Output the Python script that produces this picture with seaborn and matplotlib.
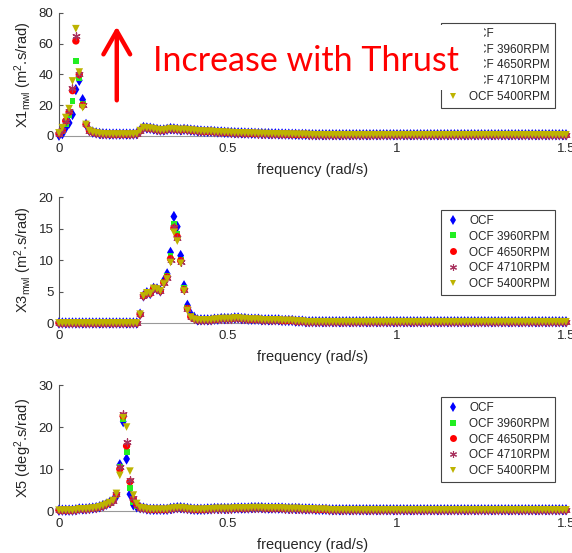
import numpy as np
import pandas as pd
import matplotlib
matplotlib.use("Agg")
import matplotlib.pyplot as plt
import seaborn as sns
from matplotlib.lines import Line2D
from matplotlib.patches import Rectangle

# ---------------- data ----------------
freq = np.round(np.arange(151) * 0.01, 2)   # frequency grid (rad/s)

series = ["OCF", "OCF 3960RPM", "OCF 4650RPM", "OCF 4710RPM", "OCF 5400RPM"]

# X1 (surge) spectrum - shared off-peak values
x1_base = [
    1.0, 4.0, 9.0, 14.0, 28.0, 55.0, 39.0, 20.0, 7.5, 3.5,
    2.5, 2.0, 1.6, 1.4, 1.3, 1.2, 1.2, 1.2, 1.2, 1.2,
    1.2, 1.2, 1.2, 1.5, 3.5, 5.5, 5.2, 5.0, 4.6, 4.2,
    3.8, 3.9, 4.3, 4.8, 4.6, 4.3, 4.0, 4.3, 4.1, 3.8,
    3.6, 3.4, 3.2, 3.0, 3.0, 3.0, 2.8, 2.6, 2.6, 2.4,
    2.3, 2.2, 2.1, 2.0, 2.0, 1.9, 1.8, 1.8, 1.7, 1.6,
    1.6, 1.5, 1.5, 1.4, 1.4, 1.3, 1.3, 1.2, 1.2, 1.1,
    1.1, 1.0, 1.0, 1.0, 0.9, 0.8, 0.8, 0.8, 0.8, 0.8,
    0.8, 0.8, 0.8, 0.8, 0.8, 0.8, 0.8, 0.8, 0.8, 0.8,
    0.8, 0.8, 0.8, 0.8, 0.8, 0.8, 0.8, 0.8, 0.8, 0.8,
    0.8, 0.8, 0.8, 0.8, 0.8, 0.8, 0.8, 0.8, 0.8, 0.8,
    0.8, 0.8, 0.8, 0.8, 0.8, 0.8, 0.8, 0.8, 0.8, 0.8,
    0.8, 0.8, 0.8, 0.8, 0.8, 0.8, 0.8, 0.8, 0.8, 0.8,
    0.8, 0.8, 0.8, 0.8, 0.8, 0.8, 0.8, 0.8, 0.8, 0.8,
    0.8, 0.8, 0.8, 0.8, 0.8, 0.8, 0.8, 0.8, 0.8, 0.8,
    0.8,
]
# X1 peak region (f = 0.00 .. 0.08) per series
x1_peak_start = 0
x1_ocf = [0.5, 1.5, 5.4, 8.5, 14.0, 30.2, 36.2, 23.6, 7.5]
x1_3960 = [1.0, 3.5, 8.0, 13.4, 22.8, 48.6, 38.0, 21.0, 7.5]
x1_4650 = [1.5, 3.5, 9.8, 15.6, 29.5, 61.8, 40.0, 20.0, 7.5]
x1_4710 = [1.5, 4.0, 10.0, 16.0, 31.0, 64.9, 40.5, 20.0, 7.5]
x1_5400 = [2.0, 5.4, 12.0, 17.8, 35.8, 69.8, 41.6, 18.4, 7.5]

# X3 (heave) spectrum - shared off-peak values
x3_base = [
    0.0, 0.0, 0.0, 0.0, 0.0, 0.0, 0.0, 0.0, 0.0, 0.0,
    0.0, 0.0, 0.0, 0.0, 0.0, 0.0, 0.0, 0.0, 0.0, 0.0,
    0.0, 0.0, 0.0, 0.0, 1.4, 4.3, 4.8, 4.7, 5.5, 5.4,
    5.1, 6.5, 7.4, 10.3, 15.3, 13.9, 10.0, 5.4, 2.3, 1.0,
    0.7, 0.5, 0.5, 0.5, 0.5, 0.5, 0.6, 0.6, 0.7, 0.7,
    0.7, 0.7, 0.8, 0.8, 0.7, 0.7, 0.6, 0.6, 0.6, 0.6,
    0.5, 0.5, 0.5, 0.5, 0.5, 0.5, 0.4, 0.4, 0.4, 0.4,
    0.3, 0.3, 0.3, 0.2, 0.2, 0.2, 0.2, 0.2, 0.2, 0.2,
    0.2, 0.2, 0.2, 0.2, 0.2, 0.2, 0.2, 0.2, 0.2, 0.2,
    0.2, 0.2, 0.2, 0.2, 0.2, 0.2, 0.2, 0.2, 0.2, 0.2,
    0.2, 0.2, 0.2, 0.2, 0.2, 0.2, 0.2, 0.2, 0.2, 0.2,
    0.2, 0.2, 0.2, 0.2, 0.2, 0.2, 0.2, 0.2, 0.2, 0.2,
    0.2, 0.2, 0.2, 0.2, 0.2, 0.2, 0.2, 0.2, 0.2, 0.2,
    0.2, 0.2, 0.2, 0.2, 0.2, 0.2, 0.2, 0.2, 0.2, 0.2,
    0.2, 0.2, 0.2, 0.2, 0.2, 0.2, 0.2, 0.2, 0.2, 0.2,
    0.2,
]
# X3 peak region (f = 0.31 .. 0.40) per series
x3_peak_start = 31
x3_ocf = [6.7, 7.8, 11.2, 16.9, 15.3, 10.7, 5.9, 2.8, 1.4, 0.9]
x3_3960 = [6.5, 7.5, 10.6, 15.8, 14.2, 10.0, 5.5, 2.4, 1.1, 0.7]
x3_4650 = [6.4, 7.3, 10.2, 15.1, 13.7, 9.9, 5.3, 2.3, 1.0, 0.7]
x3_4710 = [6.4, 7.2, 10.0, 15.3, 13.5, 9.7, 5.2, 2.2, 1.0, 0.7]
x3_5400 = [6.2, 7.0, 9.6, 14.4, 13.0, 9.5, 5.1, 2.0, 0.9, 0.6]

# X5 (pitch) spectrum - shared off-peak values
x5_base = [
    0.2, 0.2, 0.2, 0.2, 0.2, 0.3, 0.5, 0.5, 0.5, 0.6,
    0.7, 0.8, 1.0, 1.3, 1.6, 2.0, 2.5, 4.0, 10.0, 22.4,
    15.6, 6.7, 2.7, 1.4, 0.8, 0.7, 0.5, 0.4, 0.4, 0.4,
    0.4, 0.4, 0.4, 0.6, 0.7, 0.8, 0.8, 0.7, 0.6, 0.5,
    0.4, 0.4, 0.4, 0.4, 0.5, 0.5, 0.6, 0.6, 0.6, 0.6,
    0.6, 0.6, 0.7, 0.7, 0.7, 0.7, 0.7, 0.8, 0.8, 0.8,
    0.8, 0.7, 0.7, 0.7, 0.7, 0.7, 0.7, 0.6, 0.6, 0.6,
    0.6, 0.6, 0.5, 0.5, 0.5, 0.5, 0.4, 0.4, 0.4, 0.4,
    0.3, 0.3, 0.3, 0.3, 0.3, 0.3, 0.3, 0.3, 0.3, 0.3,
    0.3, 0.3, 0.3, 0.3, 0.3, 0.3, 0.3, 0.3, 0.3, 0.3,
    0.3, 0.3, 0.3, 0.3, 0.3, 0.3, 0.3, 0.3, 0.3, 0.3,
    0.3, 0.3, 0.3, 0.3, 0.3, 0.3, 0.3, 0.3, 0.3, 0.3,
    0.3, 0.3, 0.3, 0.3, 0.3, 0.3, 0.3, 0.3, 0.3, 0.3,
    0.3, 0.3, 0.3, 0.3, 0.3, 0.3, 0.3, 0.3, 0.3, 0.3,
    0.3, 0.3, 0.3, 0.3, 0.3, 0.3, 0.3, 0.3, 0.3, 0.3,
    0.3,
]
# X5 peak region (f = 0.17 .. 0.23) per series
x5_peak_start = 17
x5_ocf = [3.5, 11.0, 21.3, 12.4, 4.0, 1.5, 1.0]
x5_3960 = [3.8, 10.5, 22.0, 14.0, 5.5, 2.2, 1.2]
x5_4650 = [4.0, 10.0, 22.6, 15.5, 7.0, 2.8, 1.5]
x5_4710 = [4.0, 10.5, 23.2, 16.5, 7.5, 3.0, 1.5]
x5_5400 = [4.2, 8.5, 22.2, 20.0, 9.5, 3.8, 1.8]

x_ticks = [0, 0.5, 1, 1.5]
x_tick_labels = ["0", "0.5", "1", "1.5"]
y1_ticks = [0, 20, 40, 60, 80]
y3_ticks = [0, 5, 10, 15, 20]
y5_ticks = [0, 10, 20, 30]


def assemble(base, start, peaks):
    rows = []
    for name, pk in zip(series, peaks):
        vals = list(base)
        vals[start:start + len(pk)] = pk
        rows.append(pd.DataFrame({"freq": freq, "value": vals, "series": name}))
    return pd.concat(rows, ignore_index=True)


df1 = assemble(x1_base, x1_peak_start, [x1_ocf, x1_3960, x1_4650, x1_4710, x1_5400])
df3 = assemble(x3_base, x3_peak_start, [x3_ocf, x3_3960, x3_4650, x3_4710, x3_5400])
df5 = assemble(x5_base, x5_peak_start, [x5_ocf, x5_3960, x5_4650, x5_4710, x5_5400])

# ---------------- style ----------------
sns.set_theme(style="white")
plt.rcParams["font.family"] = ["Liberation Sans", "DejaVu Sans"]
plt.rcParams["mathtext.fontset"] = "custom"
plt.rcParams["mathtext.rm"] = "Liberation Sans"
plt.rcParams["mathtext.it"] = "Liberation Sans:italic"
plt.rcParams["mathtext.bf"] = "Liberation Sans:bold"

colors = {"OCF": "#0000FF", "OCF 3960RPM": "#22EE22", "OCF 4650RPM": "#FF0000",
          "OCF 4710RPM": "#A8325E", "OCF 5400RPM": "#BDB300"}
markers = {"OCF": "d", "OCF 3960RPM": "s", "OCF 4650RPM": "o",
           "OCF 4710RPM": (6, 2, 0), "OCF 5400RPM": "v"}
sizes = {"OCF": 34, "OCF 3960RPM": 18, "OCF 4650RPM": 28,
         "OCF 4710RPM": 28, "OCF 5400RPM": 30}
leg_ms = {"OCF": 5.5, "OCF 3960RPM": 4, "OCF 4650RPM": 5,
          "OCF 4710RPM": 5, "OCF 5400RPM": 5}

fig = plt.figure(figsize=(5.72, 5.53), dpi=100)
ax1 = fig.add_axes([0.1031, 0.7541, 0.8864, 0.2224])
ax3 = fig.add_axes([0.1031, 0.4159, 0.8864, 0.2278])
ax5 = fig.add_axes([0.1031, 0.0759, 0.8864, 0.2278])

panels = [
    (ax1, df1, (0, 80), y1_ticks, r"X1$_{\mathrm{mwl}}$ (m$^{2}$.s/rad)", 0.919),
    (ax3, df3, (0, 20), y3_ticks, r"X3$_{\mathrm{mwl}}$ (m$^{2}$.s/rad)", 0.897),
    (ax5, df5, (0, 30), y5_ticks, r"X5 (deg$^{2}$.s/rad)", 0.905),
]

tick_col = "#262626"
for ax, df, ylim, yt, ylab, legtop in panels:
    for name in series:
        sub = df[df["series"] == name]
        m = markers[name]
        if name == "OCF 4710RPM":
            sns.scatterplot(data=sub, x="freq", y="value", marker=m, color=colors[name],
                            s=sizes[name], linewidth=0.9, ax=ax, legend=False,
                            zorder=3, clip_on=False)
        else:
            sns.scatterplot(data=sub, x="freq", y="value", marker=m, color=colors[name],
                            s=sizes[name], linewidth=0, edgecolor="none", ax=ax,
                            legend=False, zorder=3, clip_on=False)
    ax.set_xlim(0, 1.5)
    ax.set_ylim(*ylim)
    ax.set_xticks(x_ticks)
    ax.set_xticklabels(x_tick_labels)
    ax.set_yticks(yt)
    ax.set_yticklabels([str(v) for v in yt])
    for s in ["top", "right"]:
        ax.spines[s].set_visible(False)
    ax.spines["left"].set_color("#555555")
    ax.spines["bottom"].set_color("#999999")
    ax.spines["left"].set_linewidth(0.8)
    ax.spines["bottom"].set_linewidth(0.8)
    ax.tick_params(axis="both", direction="in", length=3, width=0.8, color="#555555",
                   labelsize=9.5, labelcolor=tick_col, pad=4)
    ax.tick_params(axis="x", pad=5, bottom=True)
    ax.tick_params(axis="y", left=True)
    ax.set_xlabel("frequency (rad/s)", fontsize=10.5, color=tick_col, labelpad=6)
    ax.set_ylabel(ylab, fontsize=10.5, color=tick_col)
    ax.yaxis.set_label_coords(-0.05, 0.5)

    handles = [Line2D([], [], linestyle="none", marker=markers[n], color=colors[n],
                      markerfacecolor=colors[n], markeredgecolor=colors[n],
                      markeredgewidth=0.8 if n == "OCF 4710RPM" else 0,
                      markersize=leg_ms[n]) for n in series]
    leg = ax.legend(handles, series, loc="upper right", bbox_to_anchor=(0.978, legtop),
                    fontsize=8.5, frameon=True, fancybox=False, framealpha=1,
                    edgecolor="#444444", borderaxespad=0, borderpad=0.4,
                    labelspacing=0.33, handlelength=1.2, handletextpad=0.8)
    leg.get_frame().set_linewidth(0.8)
    for t in leg.get_texts():
        t.set_color(tick_col)

# annotation on top panel
ax1.add_patch(Rectangle((0.179, 0.374), 0.659, 0.528, transform=ax1.transAxes,
                        facecolor="white", edgecolor="none", zorder=6, clip_on=False))
ax1.text(0.185, 0.528, "Increase with Thrust", transform=ax1.transAxes,
         fontsize=24.5, color="#FF0000", ha="left", va="baseline",
         family=["Lato", "DejaVu Sans"], zorder=7)
ax1.annotate("", xy=(0.114, 0.89), xytext=(0.114, 0.29), xycoords="axes fraction",
             textcoords="axes fraction",
             arrowprops=dict(arrowstyle="->,head_length=1.4,head_width=0.8",
                             color="#FF0000", lw=3.2, shrinkA=0, shrinkB=0),
             zorder=7)

fig.savefig("out.png", dpi=100)
